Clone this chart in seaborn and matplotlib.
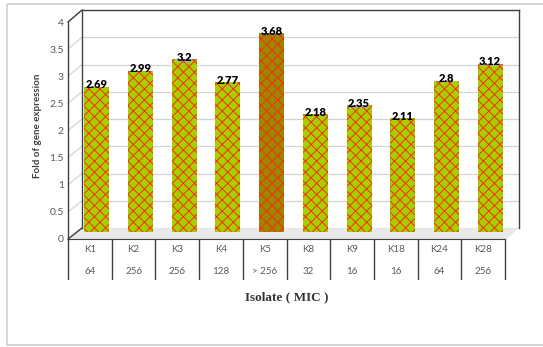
import matplotlib
matplotlib.use("Agg")
import matplotlib.pyplot as plt
import matplotlib.transforms as mtransforms
from matplotlib.patches import Polygon, Rectangle
import seaborn as sns
import pandas as pd

# Gene expression fold change per isolate, with MIC of each isolate
isolates = ["K1", "K2", "K3", "K4", "K5", "K8", "K9", "K18", "K24", "K28"]
mic = ["64", "256", "256", "128", "> 256", "32", "16", "16", "64", "256"]
fold = [2.69, 2.99, 3.2, 2.77, 3.68, 2.18, 2.35, 2.11, 2.8, 3.12]
y_ticks = [0, 0.5, 1, 1.5, 2, 2.5, 3, 3.5, 4]

df = pd.DataFrame({"Isolate": isolates, "MIC": mic, "Fold": fold})

sns.set_theme(style="white")
plt.rcParams["font.family"] = ["Lato", "DejaVu Sans"]
plt.rcParams["hatch.linewidth"] = 0.7
plt.rcParams["hatch.color"] = "#ff2a00"

W, H = 543, 347
fig = plt.figure(figsize=(W / 100, H / 100), dpi=100)
fig.patch.set_facecolor("white")


def frac(x0, y0, x1, y1):
    """Figure-fraction box from pixel corners (top-left origin)."""
    return [x0 / W, 1 - y1 / H, (x1 - x0) / W, (y1 - y0) / H]


# Pixel-space layer for the chart frame and pseudo-3D walls
bg = fig.add_axes([0, 0, 1, 1])
bg.set_xlim(0, W)
bg.set_ylim(H, 0)
bg.axis("off")
bg.add_patch(Rectangle((7, 4), W + 10, 341, fill=False, ec="#d0d0d0", lw=1.2))

# wall geometry (pixels)
fx0, fy0, fy4 = 68, 239, 22          # front axis
bx0, bx1, by0, by4 = 82, 519, 228, 10  # back wall
fx1 = 505

# floor
bg.add_patch(Polygon([(fx0, fy0), (bx0, by0), (bx1, by0), (fx1 + 2, fy0)],
                     closed=True, fc="#e9e9e9", ec="none", zorder=1))
# side-wall gridlines linking front ticks to back wall
for v in y_ticks:
    yf = fy0 - (fy0 - fy4) * v / 4
    yb = by0 - (by0 - by4) * v / 4
    bg.plot([fx0, bx0], [yf, yb], color="#d4d4d4", lw=0.9, zorder=1)
bg.plot([fx0, bx0], [fy4, by4], color="#404040", lw=1.0, zorder=2)
bg.plot([fx0, bx0], [fy0, by0], color="#404040", lw=1.0, zorder=2)

# back wall with horizontal gridlines
wall = fig.add_axes(frac(bx0, by4, bx1, by0))
wall.set_facecolor("none")
wall.set_ylim(0, 4)
wall.set_yticks(y_ticks)
wall.set_xticks([])
wall.tick_params(left=False, labelleft=False)
wall.grid(axis="y", color="#d4d4d4", lw=0.9)
for side in ["top", "right", "left"]:
    wall.spines[side].set_color("#404040")
    wall.spines[side].set_linewidth(1.0)
wall.spines["bottom"].set_visible(False)

# bars
axb = fig.add_axes(frac(75, 232 - 216, 75 + 437, 232))
axb.set_facecolor("none")
palette = {k: ("#9a8800" if k == "K5" else "#a6cf00") for k in isolates}
sns.barplot(data=df, x="Isolate", y="Fold", hue="Isolate", palette=palette,
            width=0.57, saturation=1, legend=False, ax=axb)
axb.set_xlim(-0.5, len(isolates) - 0.5)
axb.set_ylim(0, 4)
axb.axis("off")
for bar in axb.patches:
    bar.set_hatch("xxx")
    bar.set_edgecolor("#ff2a00")
    bar.set_linewidth(0)
for bar, v in zip(axb.patches, fold):
    axb.annotate(f"{v:g}", (bar.get_x() + bar.get_width() / 2, v),
                 xytext=(0, -2.5), textcoords="offset points",
                 ha="center", va="bottom", fontsize=8, fontweight="heavy",
                 color="black")

# front axis with tick labels and the category table
axf = fig.add_axes(frac(fx0, fy4, fx1, fy0))
axf.set_facecolor("none")
axf.set_xlim(-0.5, len(isolates) - 0.5)
axf.set_ylim(0, 4)
axf.set_yticks(y_ticks)
axf.set_yticklabels([f"{t:g}" for t in y_ticks])
axf.tick_params(axis="y", length=0, pad=3, labelsize=7.5, labelcolor="#595959")
axf.set_xticks([])
for side in ["top", "right"]:
    axf.spines[side].set_visible(False)
axf.spines["left"].set_color("#404040")
axf.spines["bottom"].set_color("#404040")
axf.spines["left"].set_linewidth(1.0)
axf.spines["bottom"].set_linewidth(0.8)

trans = mtransforms.blended_transform_factory(axf.transData, axf.transAxes)
tab_h = 40 / (fy0 - fy4)
for i in range(len(isolates) + 1):
    axf.plot([i - 0.5, i - 0.5], [0, -tab_h], transform=trans,
             color="#404040", lw=1.0, clip_on=False)
for i, (k, m) in enumerate(zip(isolates, mic)):
    axf.text(i, -11 / (fy0 - fy4), k, transform=trans, ha="center", va="center",
             fontsize=7, color="#595959")
    axf.text(i, -33 / (fy0 - fy4), m, transform=trans, ha="center", va="center",
             fontsize=7, color="#595959")

fig.text(37 / W, 1 - 126 / H, "Fold of gene expression", rotation=90,
         ha="center", va="center", fontsize=7, fontweight="bold", color="#404040")
fig.text(287 / W, 1 - 297 / H, "Isolate ( MIC )", ha="center", va="center",
         fontsize=9.5, fontweight="bold", color="#333333",
         family=["Liberation Serif", "DejaVu Serif"])

fig.savefig("out.png", dpi=100)
